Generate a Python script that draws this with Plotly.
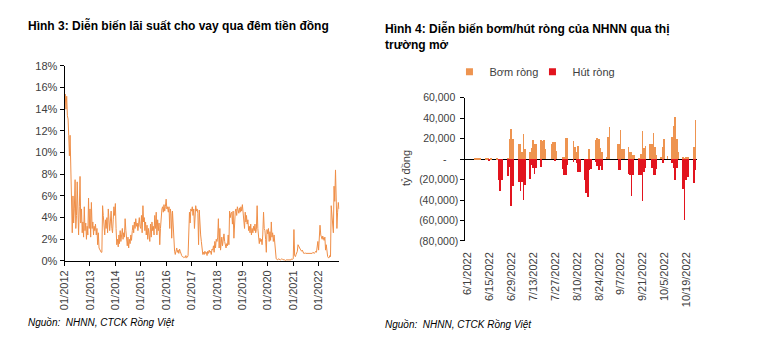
import pandas as pd
import plotly.graph_objects as go

# ---------------- Left chart: overnight interbank VND rate (%), 3 readings per month ----------------
rate_2012 = [14.7, 15.4, 14.0, 15.2, 13.4, 13.1, 11.6, 9.7, 11.6, 8.1, 7.8, 2.6,
             6.0, 3.5, 4.8, 7.5, 3.0, 4.2, 7.3, 4.0, 2.4, 5.0, 7.8, 3.5,
             4.8, 2.6, 3.6, 2.2, 5.0, 2.8, 3.5, 2.0, 3.2, 2.4, 5.8, 3.0]
rate_2013 = [4.8, 2.2, 5.4, 3.0, 3.6, 2.4, 3.2, 2.8, 3.4, 2.4, 3.0, 1.5,
             2.6, 1.2, 1.0, 0.9, 0.8, 0.8, 5.1, 4.2, 3.0, 2.4, 3.8, 3.0,
             4.0, 2.6, 4.8, 3.2, 2.8, 3.6, 4.6, 3.0, 2.6, 3.8, 5.0, 4.2]
rate_2014 = [5.3, 3.0, 1.5, 2.0, 1.3, 2.4, 1.6, 2.8, 1.8, 2.4, 3.0, 2.0,
             2.6, 2.2, 3.9, 2.8, 1.8, 1.4, 2.2, 1.2, 2.0, 1.6, 2.4, 1.9,
             2.8, 3.3, 2.6, 3.6, 3.0, 3.9, 3.2, 3.5, 2.8, 3.4, 4.0, 3.2]
rate_2015 = [3.0, 4.2, 2.6, 5.1, 3.6, 4.0, 2.8, 3.6, 2.4, 3.3, 2.0, 3.0,
             2.6, 1.8, 3.4, 2.2, 3.6, 2.8, 3.2, 2.4, 4.2, 3.0, 4.5, 2.4,
             3.8, 2.8, 3.5, 1.5, 3.0, 4.6, 4.8, 5.0, 4.5, 5.2, 4.6, 5.0]
rate_2016 = [5.7, 4.8, 5.0, 4.5, 5.0, 3.0, 4.8, 4.4, 2.1, 4.6, 2.7, 1.2,
             0.9, 0.6, 1.0, 1.2, 0.8, 1.0, 0.7, 1.1, 0.9, 0.6, 0.5, 0.4,
             0.4, 0.3, 0.35, 0.3, 0.5, 0.3, 0.35, 0.5, 2.5, 4.5, 3.5, 4.8]
rate_2017 = [4.6, 5.0, 4.2, 4.8, 3.0, 4.5, 5.1, 4.6, 4.8, 4.4, 1.5, 4.7,
             3.0, 2.4, 1.8, 1.2, 0.6, 0.8, 0.6, 0.9, 0.7, 0.8, 0.5, 0.9,
             0.7, 1.0, 0.8, 0.9, 0.6, 1.1, 1.0, 1.4, 0.8, 1.8, 1.2, 2.0]
rate_2018 = [1.8, 2.2, 3.9, 1.2, 3.0, 1.0, 1.6, 2.2, 1.4, 2.0, 2.5, 1.8,
             1.5, 1.2, 1.6, 1.4, 2.4, 1.5, 4.6, 4.0, 4.4, 4.5, 3.4, 4.6,
             2.1, 4.3, 4.6, 4.8, 4.2, 5.0, 4.7, 4.4, 4.9, 4.5, 5.0, 4.6]
rate_2019 = [5.2, 4.6, 4.0, 3.0, 4.5, 3.6, 4.2, 3.4, 3.8, 2.8, 3.2, 2.6,
             3.4, 2.4, 3.0, 2.6, 3.2, 2.8, 3.4, 2.6, 2.9, 5.1, 3.0, 2.0,
             1.6, 2.1, 1.8, 2.0, 1.5, 2.4, 4.5, 3.0, 2.8, 2.0, 0.8, 2.9]
rate_2020 = [2.5, 3.0, 1.8, 2.7, 1.9, 3.6, 2.2, 2.6, 1.8, 2.4, 1.5, 0.8,
             0.2, 0.15, 0.1, 0.2, 0.15, 0.1, 0.1, 0.15, 0.2, 0.15, 0.1, 0.1,
             0.1, 0.05, 0.1, 0.1, 0.1, 0.05, 0.05, 0.1, 0.1, 0.1, 0.2, 0.15]
rate_2021 = [0.2, 2.9, 0.5, 0.4, 0.6, 0.8, 0.9, 1.5, 1.3, 1.2, 1.1, 1.0,
             0.9, 1.0, 0.8, 0.7, 0.7, 0.75, 0.7, 0.7, 0.7, 0.7, 0.75, 0.7,
             0.7, 0.7, 0.7, 0.7, 0.8, 0.7, 0.7, 0.8, 0.9, 0.8, 1.2, 1.8]
rate_2022 = [1.0, 2.5, 3.3, 2.4, 2.2, 2.0, 2.3, 2.1, 1.9, 2.2, 1.0, 1.5,
             0.5, 0.4, 0.3, 0.3, 0.5, 0.4, 5.1, 4.0, 3.5, 2.6, 6.9, 5.5,
             8.4, 6.0, 3.0, 4.5, 5.4, 4.8]
rate_years = [2012, 2013, 2014, 2015, 2016, 2017, 2018, 2019, 2020, 2021, 2022]
rate_series = [rate_2012, rate_2013, rate_2014, rate_2015, rate_2016, rate_2017,
               rate_2018, rate_2019, rate_2020, rate_2021, rate_2022]
reading_days = [1, 11, 21]

left_tick_labels = ["01/2012", "01/2013", "01/2014", "01/2015", "01/2016", "01/2017",
                    "01/2018", "01/2019", "01/2020", "01/2021", "01/2022"]
left_y_ticks = [0, 2, 4, 6, 8, 10, 12, 14, 16, 18]
left_y_text = ["0%", "2%", "4%", "6%", "8%", "10%", "12%", "14%", "16%", "18%"]

rate_dates, rate_values = [], []
for yr, vals in zip(rate_years, rate_series):
    for i, v in enumerate(vals):
        m = i // 3 + 1
        d = reading_days[i % 3]
        rate_dates.append(pd.Timestamp(yr, m, d))
        rate_values.append(v)

# ---------------- Right chart: SBV net injection / withdrawal (bn VND) ----------------
omo_dates = [
    "2022-06-06", "2022-06-07", "2022-06-08", "2022-06-09",
    "2022-06-13", "2022-06-14", "2022-06-15", "2022-06-16",
    "2022-06-20", "2022-06-21", "2022-06-22", "2022-06-23",
    "2022-06-27", "2022-06-28", "2022-06-29", "2022-06-30",
    "2022-07-04", "2022-07-05", "2022-07-06", "2022-07-07", "2022-07-08",
    "2022-07-11", "2022-07-12", "2022-07-13", "2022-07-14", "2022-07-15",
    "2022-07-18", "2022-07-19", "2022-07-20", "2022-07-21",
    "2022-07-25", "2022-07-26", "2022-07-27", "2022-07-28",
    "2022-08-01", "2022-08-02", "2022-08-03", "2022-08-04",
    "2022-08-08", "2022-08-09", "2022-08-10", "2022-08-11", "2022-08-12",
    "2022-08-15", "2022-08-16", "2022-08-17", "2022-08-18", "2022-08-19",
    "2022-08-22", "2022-08-23", "2022-08-24", "2022-08-25", "2022-08-26",
    "2022-08-29", "2022-08-30", "2022-08-31",
    "2022-09-05", "2022-09-06", "2022-09-07", "2022-09-08", "2022-09-09",
    "2022-09-12", "2022-09-13", "2022-09-14", "2022-09-15", "2022-09-16",
    "2022-09-19", "2022-09-20", "2022-09-21", "2022-09-22", "2022-09-23",
    "2022-09-26", "2022-09-27", "2022-09-28", "2022-09-29", "2022-09-30",
    "2022-10-03", "2022-10-04", "2022-10-05", "2022-10-07",
    "2022-10-10", "2022-10-11", "2022-10-12", "2022-10-13", "2022-10-14",
    "2022-10-17", "2022-10-18", "2022-10-19", "2022-10-20",
    "2022-10-24", "2022-10-25",
]
bom_rong = [
    1000, 1000, 1000, 1000,
    800, 800, 0, 800,
    1500, 0, 0, 0,
    1500, 20000, 30000, 20000,
    15000, 15000, 7000, 24400, 10600,
    7000, 11000, 19400, 15000, 15000,
    19400, 18400, 19400, 10000,
    15000, 17000, 17000, 8000,
    2800, 2000, 21000, 21000,
    18400, 12000, 7500, 12800, 0,
    0, 0, 0, 10300, 0,
    19000, 21000, 19700, 11000, 7200,
    2500, 21600, 31500,
    15300, 15300, 28400, 10300, 10300,
    11900, 7500, 7500, 4700, 4000,
    1200, 5000, 27800, 11250, 13400,
    15000, 15000, 25600, 12200, 4400,
    2800, 12200, 19700, 3700,
    21600, 33000, 41000, 20300, 7000,
    2000, 1000, 2000, 2800,
    12200, 38750,
]
hut_rong = [
    0, 0, 0, 0,
    0, 0, -1500, 0,
    0, -20000, -31000, -20500,
    -16000, -7000, -45600, -26000,
    -22000, -31000, -22000, -40000, -24700,
    -19400, -5600, -8000, -13800, -8800,
    -7000, 0, 0, 0,
    0, 0, -1500, 0,
    -9400, -15300, -15300, -5000,
    -3000, 0, -4000, -11900, -11900,
    -20300, -33000, -37000, -10300, -9000,
    -3000, -6000, -10600, -6000, -10000,
    0, 0, 0,
    0, -10000, -10300, 0, 0,
    -14700, -15300, -36000, -15300, 0,
    -15300, -15300, -41000, -12800, -8750,
    0, -8000, -15300, -15300, -9000,
    0, -3500, 0, 0,
    -3500, -8000, -20000, -8000, 0,
    -29400, -59400, -20000, -17500,
    -22800, -10600,
]
right_tick_labels = ["6/1/2022", "6/15/2022", "6/29/2022", "7/13/2022", "7/27/2022", "8/10/2022",
                     "8/24/2022", "9/7/2022", "9/21/2022", "10/5/2022", "10/19/2022"]
right_y_ticks = [-80000, -60000, -40000, -20000, 0, 20000, 40000, 60000]
right_y_text = ["(80,000)", "(60,000)", "(40,000)", "(20,000)", "-\u00a0\u00a0\u00a0\u00a0",
                "20,000\u00a0", "40,000\u00a0", "60,000\u00a0"]

ORANGE_LINE = "#EF8E47"
ORANGE_BAR = "#EE9450"
RED_BAR = "#E2141E"
TICK_COLOR = "#404040"
FONT = "Liberation Sans, Arial, sans-serif"

fig = go.Figure()

fig.add_trace(go.Scatter(
    x=rate_dates, y=rate_values, mode="lines",
    line=dict(color=ORANGE_LINE, width=1),
    xaxis="x", yaxis="y", showlegend=False, hoverinfo="x+y",
))

omo_dt = pd.to_datetime(omo_dates)
bar_w = 0.45 * 86400000
fig.add_trace(go.Bar(
    x=omo_dt, y=bom_rong, name="Bơm ròng", marker=dict(color=ORANGE_BAR, line=dict(width=0)),
    width=bar_w, xaxis="x2", yaxis="y2", showlegend=False, legendgroup="bom",
))
fig.add_trace(go.Bar(
    x=omo_dt, y=hut_rong, name="Hút ròng", marker=dict(color=RED_BAR, line=dict(width=0)),
    width=bar_w, xaxis="x2", yaxis="y2", showlegend=False, legendgroup="hut",
))
# legend entries with small square swatches
for nm, col, grp in [("Bơm ròng", ORANGE_BAR, "bom"), ("Hút ròng", RED_BAR, "hut")]:
    fig.add_trace(go.Scatter(
        x=[None], y=[None], mode="markers", name=nm, legendgroup=grp,
        marker=dict(symbol="square", size=7, color=col),
        xaxis="x2", yaxis="y2", showlegend=True,
    ))

W, H = 759, 351
def px_x(p):
    return p / W
def px_y(p):
    return 1 - p / H

left_tickvals = [pd.Timestamp(int(t[3:]), 1, 1) for t in left_tick_labels]
right_tickvals = pd.to_datetime(right_tick_labels, format="%m/%d/%Y")

fig.update_layout(
    width=W, height=H,
    margin=dict(l=0, r=0, t=0, b=0),
    paper_bgcolor="white", plot_bgcolor="white",
    font=dict(family=FONT, size=11, color=TICK_COLOR),
    barmode="relative", bargap=0,
    xaxis=dict(
        domain=[px_x(59), px_x(336)],
        type="date",
        range=[pd.Timestamp(2012, 1, 1), pd.Timestamp(2022, 10, 26)],
        tickvals=left_tickvals, ticktext=left_tick_labels, tickangle=-90,
        showline=True, linecolor="black", linewidth=1,
        ticks="outside", ticklen=4, tickcolor="black",
        showgrid=False, zeroline=False,
        tickfont=dict(size=11, color=TICK_COLOR),
    ),
    yaxis=dict(
        domain=[px_y(264), px_y(62)],
        range=[0, 18],
        tickvals=left_y_ticks, ticktext=left_y_text,
        showline=True, linecolor="black", linewidth=1,
        ticks="outside", ticklen=4, tickcolor="black",
        showgrid=False, zeroline=False,
        tickfont=dict(size=11, color=TICK_COLOR),
    ),
    xaxis2=dict(
        domain=[px_x(463), px_x(697)],
        type="date", anchor="y2",
        range=[pd.Timestamp(2022, 5, 30, 12), pd.Timestamp(2022, 10, 26)],
        tickvals=right_tickvals, ticktext=right_tick_labels, tickangle=-90,
        showline=False, ticks="", showgrid=False, zeroline=False,
        ticklabelstandoff=8,
        tickfont=dict(size=11, color=TICK_COLOR),
    ),
    yaxis2=dict(
        domain=[px_y(243.3), px_y(95)],
        anchor="x2",
        range=[-80000, 60000],
        tickvals=right_y_ticks, ticktext=right_y_text,
        showline=True, linecolor="black", linewidth=1,
        ticks="outside", ticklen=4, tickcolor="black",
        showgrid=False, zeroline=True, zerolinecolor="black", zerolinewidth=1,
        tickfont=dict(size=10.5, color=TICK_COLOR),
    ),
    legend=dict(
        orientation="h", x=px_x(447), y=px_y(68), xanchor="left", yanchor="middle",
        font=dict(size=11, color=TICK_COLOR), itemwidth=30, entrywidth=38,
        traceorder="normal", bgcolor="rgba(0,0,0,0)",
    ),
    annotations=[
        dict(text="<b>Hình 3: Diễn biến lãi suất cho vay qua đêm tiền đồng</b>",
             x=px_x(20), y=px_y(20), xref="paper", yref="paper", xanchor="left", yanchor="middle",
             showarrow=False, font=dict(size=12, color="black", family=FONT)),
        dict(text="<b>Hình 4: Diễn biến bơm/hút ròng của NHNN qua thị<br>trường mở</b>",
             x=px_x(380), y=px_y(13), xref="paper", yref="paper", xanchor="left", yanchor="top",
             align="left", showarrow=False, font=dict(size=12, color="black", family=FONT)),
        dict(text="tỷ đồng", x=px_x(403), y=px_y(168), xref="paper", yref="paper",
             xanchor="center", yanchor="middle", textangle=-90, showarrow=False,
             font=dict(size=11, color=TICK_COLOR, family=FONT)),
        dict(text="<i>Nguồn:  NHNN, CTCK Rồng Việt</i>", x=px_x(20), y=px_y(328),
             xref="paper", yref="paper", xanchor="left", yanchor="middle", showarrow=False,
             font=dict(size=10, color="black", family=FONT)),
        dict(text="<i>Nguồn:  NHNN, CTCK Rồng Việt</i>", x=px_x(380), y=px_y(330),
             xref="paper", yref="paper", xanchor="left", yanchor="middle", showarrow=False,
             font=dict(size=10, color="black", family=FONT)),
    ],
)

fig.write_html("out.html")
